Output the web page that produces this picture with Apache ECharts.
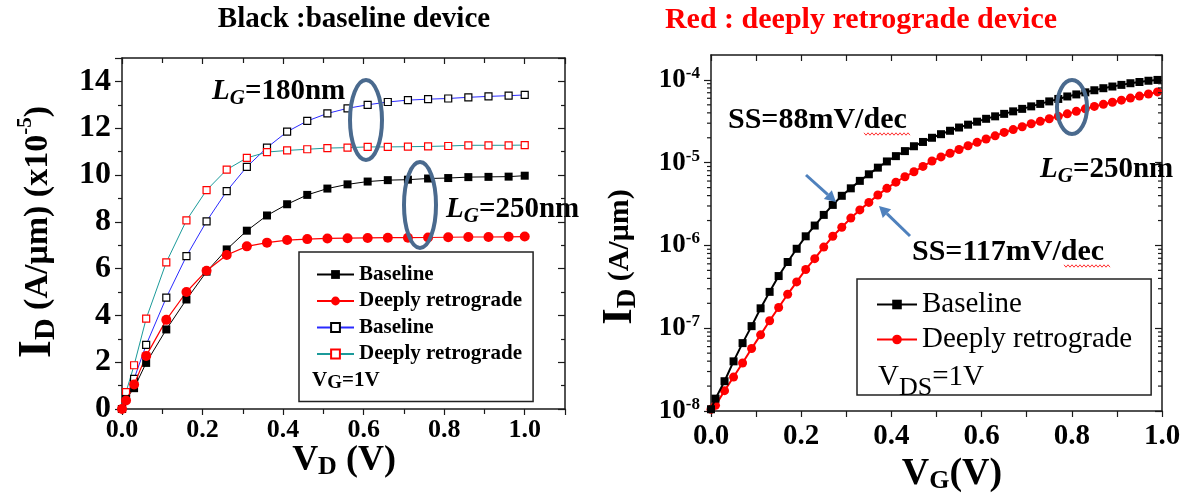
<!DOCTYPE html>
<html>
<head>
<meta charset="utf-8">
<script src="https://cdn.jsdelivr.net/npm/echarts@6/dist/echarts.min.js"></script>
<style>
  html, body { margin: 0; padding: 0; background: #fff; }
  #chart { width: 1191px; height: 497px; }
</style>
</head>
<body>
<div id="chart"></div>
<script>
// ---- Output characteristics (I_D vs V_D, V_G = 1 V), I_D in units of 1e-5 A/um ----
const vdVolts = [0, 0.01, 0.03, 0.06, 0.11, 0.16, 0.21, 0.26, 0.31, 0.36, 0.41, 0.46,
                 0.51, 0.56, 0.61, 0.66, 0.71, 0.76, 0.81, 0.86, 0.91, 0.96, 1.0];
const idBaseline250 = [0, 0.43, 0.89, 1.97, 3.40, 4.68, 5.87, 6.82, 7.62, 8.27, 8.75, 9.15,
                       9.42, 9.60, 9.72, 9.78, 9.80, 9.85, 9.87, 9.91, 9.92, 9.93, 9.97];
const idRetro250 = [0, 0.36, 1.05, 2.27, 3.81, 5.00, 5.91, 6.58, 6.95, 7.11, 7.22, 7.26,
                    7.29, 7.30, 7.31, 7.32, 7.32, 7.33, 7.34, 7.35, 7.35, 7.36, 7.37];
const idBaseline180 = [0, 0.55, 1.29, 2.74, 4.76, 6.53, 8.02, 9.31, 10.35, 11.17, 11.85, 12.31,
                       12.63, 12.85, 13.00, 13.12, 13.20, 13.24, 13.27, 13.32, 13.36, 13.39, 13.42];
const idRetro180 = [0, 0.72, 1.87, 3.86, 6.27, 8.06, 9.35, 10.23, 10.73, 10.98, 11.05, 11.10,
                    11.15, 11.17, 11.20, 11.20, 11.21, 11.22, 11.24, 11.27, 11.27, 11.27, 11.28];

// ---- Transfer characteristics (I_D vs V_G, V_DS = 1 V), I_D in A/um ----
const vgVolts = [0, 0.01, 0.03, 0.05, 0.07, 0.09, 0.11, 0.13, 0.15, 0.17, 0.19, 0.21, 0.23, 0.25,
                 0.27, 0.29, 0.31, 0.33, 0.35, 0.37, 0.39, 0.41, 0.43, 0.45, 0.47, 0.49, 0.51,
                 0.53, 0.55, 0.57, 0.59, 0.61, 0.63, 0.65, 0.67, 0.69, 0.71, 0.73, 0.75, 0.77,
                 0.79, 0.81, 0.83, 0.85, 0.87, 0.89, 0.91, 0.93, 0.95, 0.97, 0.99];
const idBaselineVg = [1.05e-8, 1.41e-8, 2.29e-8, 3.98e-8, 6.61e-8, 1.06e-7, 1.74e-7, 2.75e-7,
                      4.27e-7, 6.31e-7, 9.12e-7, 1.29e-6, 1.74e-6, 2.34e-6, 3.09e-6, 3.98e-6,
                      4.90e-6, 6.03e-6, 7.24e-6, 8.71e-6, 1.035e-5, 1.20e-5, 1.38e-5, 1.58e-5,
                      1.78e-5, 2.00e-5, 2.21e-5, 2.43e-5, 2.66e-5, 2.88e-5, 3.13e-5, 3.39e-5,
                      3.63e-5, 3.89e-5, 4.17e-5, 4.47e-5, 4.79e-5, 5.13e-5, 5.50e-5, 5.89e-5,
                      6.31e-5, 6.68e-5, 7.08e-5, 7.50e-5, 7.94e-5, 8.32e-5, 8.71e-5, 9.12e-5,
                      9.44e-5, 9.77e-5, 1.00e-4];
const idRetroVg = [1.05e-8, 1.17e-8, 1.76e-8, 2.57e-8, 3.80e-8, 5.69e-8, 8.32e-8, 1.23e-7,
                   1.78e-7, 2.57e-7, 3.63e-7, 5.13e-7, 6.92e-7, 9.55e-7, 1.29e-6, 1.66e-6,
                   2.14e-6, 2.69e-6, 3.31e-6, 4.07e-6, 4.90e-6, 5.82e-6, 6.76e-6, 7.76e-6,
                   9.02e-6, 1.047e-5, 1.175e-5, 1.30e-5, 1.445e-5, 1.60e-5, 1.76e-5, 1.93e-5,
                   2.11e-5, 2.32e-5, 2.51e-5, 2.72e-5, 2.95e-5, 3.16e-5, 3.39e-5, 3.63e-5,
                   3.89e-5, 4.17e-5, 4.47e-5, 4.79e-5, 5.07e-5, 5.37e-5, 5.69e-5, 6.03e-5,
                   6.38e-5, 6.76e-5, 7.16e-5];

// Axis ranges
const vdRange = [0, 1.1];
const idLinRange = [0, 15];
const vgRange = [0, 1.0];
const idLogRange = [1e-8, 2e-4];

const SERIF = '"Liberation Serif","Times New Roman",Times,serif';
const AXIS_COLOR = '#1a1a1a';

const pairs = (xs, ys) => xs.map((x, i) => [x, ys[i]]);
const legendLabel = name => name.split(' | ')[0];

// log-axis minor ticks at 2..9 x 10^n
const logMinorTicks = [];
for (let e = -8; e <= -4; e++) {
  for (let m = 2; m <= 9; m++) {
    const v = m * Math.pow(10, e);
    if (v < idLogRange[1]) logMinorTicks.push([0, v]);
  }
}

function axisLine() {
  return { show: true, onZero: false, lineStyle: { color: AXIS_COLOR, width: 1.5 } };
}

function zigzag(x0, x1, y, amp, step) {
  const pts = [];
  let k = 0;
  for (let x = x0; x <= x1; x += step / 2, k++) pts.push([x, y + (k % 2 ? amp : -amp)]);
  return pts;
}

function arrow(tail, tip, color) {
  const dx = tip[0] - tail[0], dy = tip[1] - tail[1];
  const len = Math.hypot(dx, dy), ux = dx / len, uy = dy / len;
  const hl = 11, hw = 6;
  const base = [tip[0] - ux * hl, tip[1] - uy * hl];
  return [
    { type: 'line', z: 10, shape: { x1: tail[0], y1: tail[1], x2: base[0], y2: base[1] },
      style: { stroke: color, lineWidth: 3 } },
    { type: 'polygon', z: 10, shape: { points: [tip, [base[0] - uy * hw, base[1] + ux * hw], [base[0] + uy * hw, base[1] - ux * hw]] },
      style: { fill: color } }
  ];
}

const lgRich = {
  L: { fontFamily: SERIF, fontStyle: 'italic', fontWeight: 'bold', fontSize: 29, lineHeight: 34 },
  G: { fontFamily: SERIF, fontStyle: 'italic', fontWeight: 'bold', fontSize: 21, lineHeight: 20, verticalAlign: 'bottom' },
  t: { fontFamily: SERIF, fontWeight: 'bold', fontSize: 29, lineHeight: 34 }
};

const chart = echarts.init(document.getElementById('chart'), null, { renderer: 'canvas' });

const option = {
  animation: false,
  backgroundColor: '#fff',
  grid: [
    { left: 122, top: 58, width: 443, height: 351 },
    { left: 711, top: 55, width: 451, height: 356 }
  ],
  xAxis: [
    {
      gridIndex: 0, type: 'value', position: 'bottom', min: vdRange[0], max: vdRange[1], interval: 0.2,
      axisLine: axisLine(),
      axisTick: { show: true, length: 6, lineStyle: { color: AXIS_COLOR, width: 1.2 } },
      minorTick: { show: true, splitNumber: 2, length: 5, lineStyle: { color: AXIS_COLOR, width: 1.2 } },
      splitLine: { show: false },
      axisLabel: {
        showMaxLabel: false, margin: 8, color: '#000', fontFamily: SERIF, fontWeight: 'bold', fontSize: 26,
        formatter: v => v.toFixed(1)
      }
    },
    {
      gridIndex: 0, type: 'value', position: 'top', min: vdRange[0], max: vdRange[1], interval: 0.2,
      axisLine: axisLine(),
      axisTick: { show: true, inside: true, length: 6, lineStyle: { color: AXIS_COLOR, width: 1.2 } },
      minorTick: { show: true, splitNumber: 2, length: 5, lineStyle: { color: AXIS_COLOR, width: 1.2 } },
      splitLine: { show: false }, axisLabel: { show: false }
    },
    {
      gridIndex: 1, type: 'value', position: 'bottom', min: vgRange[0], max: vgRange[1], interval: 0.2,
      axisLine: axisLine(),
      axisTick: { show: true, length: 6, lineStyle: { color: AXIS_COLOR, width: 1.2 } },
      minorTick: { show: true, splitNumber: 2, length: 6, lineStyle: { color: AXIS_COLOR, width: 1.2 } },
      splitLine: { show: false },
      axisLabel: {
        margin: 11, color: '#000', fontFamily: SERIF, fontWeight: 'bold', fontSize: 29,
        formatter: v => v.toFixed(1)
      }
    },
    {
      gridIndex: 1, type: 'value', position: 'top', min: vgRange[0], max: vgRange[1], interval: 0.2,
      axisLine: axisLine(),
      axisTick: { show: true, inside: true, length: 6, lineStyle: { color: AXIS_COLOR, width: 1.2 } },
      minorTick: { show: true, splitNumber: 2, length: 6, lineStyle: { color: AXIS_COLOR, width: 1.2 } },
      splitLine: { show: false }, axisLabel: { show: false }
    }
  ],
  yAxis: [
    {
      gridIndex: 0, type: 'value', position: 'left', min: idLinRange[0], max: idLinRange[1], interval: 2,
      axisLine: axisLine(),
      axisTick: { show: true, length: 7, lineStyle: { color: AXIS_COLOR, width: 1.2 } },
      minorTick: { show: true, splitNumber: 2, length: 4, lineStyle: { color: AXIS_COLOR, width: 1.2 } },
      splitLine: { show: false },
      axisLabel: { showMaxLabel: false, margin: 11, color: '#000', fontFamily: SERIF, fontWeight: 'bold', fontSize: 32 }
    },
    {
      gridIndex: 0, type: 'value', position: 'right', min: idLinRange[0], max: idLinRange[1], interval: 2,
      axisLine: axisLine(),
      axisTick: { show: true, inside: true, length: 7, lineStyle: { color: AXIS_COLOR, width: 1.2 } },
      minorTick: { show: true, splitNumber: 2, length: 4, lineStyle: { color: AXIS_COLOR, width: 1.2 } },
      splitLine: { show: false }, axisLabel: { show: false }
    },
    {
      gridIndex: 1, type: 'log', logBase: 10, position: 'left', min: idLogRange[0], max: idLogRange[1],
      axisLine: axisLine(),
      axisTick: { show: true, length: 7, lineStyle: { color: AXIS_COLOR, width: 1.2 } },
      splitLine: { show: false },
      axisLabel: {
        showMaxLabel: false, margin: 11, color: '#000',
        formatter: v => '{b|10}{s|' + Math.round(Math.log10(v)) + '}',
        rich: {
          b: { fontFamily: SERIF, fontWeight: 'bold', fontSize: 27, lineHeight: 30, color: '#000' },
          s: { fontFamily: SERIF, fontWeight: 'bold', fontSize: 17, lineHeight: 17, verticalAlign: 'top', color: '#000' }
        }
      }
    },
    {
      gridIndex: 1, type: 'log', logBase: 10, position: 'right', min: idLogRange[0], max: idLogRange[1],
      axisLine: axisLine(),
      axisTick: { show: true, inside: true, length: 7, lineStyle: { color: AXIS_COLOR, width: 1.2 } },
      splitLine: { show: false }, axisLabel: { show: false }
    }
  ],
  legend: [
    {
      data: ['Baseline | 250 nm', 'Deeply retrograde | 250 nm', 'Baseline | 180 nm', 'Deeply retrograde | 180 nm'],
      orient: 'vertical', left: 299, top: 252,
      itemWidth: 37, itemHeight: 11, itemGap: 5.5,
      padding: [12, 11, 37, 17],
      borderColor: '#222', borderWidth: 1.5, borderRadius: 0,
      selectedMode: false, formatter: legendLabel,
      textStyle: { fontFamily: SERIF, fontWeight: 'bold', fontSize: 21, color: '#000' }
    },
    {
      data: ['Baseline | Vg sweep', 'Deeply retrograde | Vg sweep'],
      orient: 'vertical', left: 857, top: 279,
      itemWidth: 40, itemHeight: 12, itemGap: 6,
      padding: [11, 19, 41, 19],
      borderColor: '#222', borderWidth: 1.5, borderRadius: 0,
      selectedMode: false, formatter: legendLabel,
      textStyle: { fontFamily: SERIF, fontSize: 29, color: '#000' }
    }
  ],
  series: [
    {
      name: 'Baseline | 250 nm', type: 'line', xAxisIndex: 0, yAxisIndex: 0,
      data: pairs(vdVolts, idBaseline250),
      symbol: 'rect', symbolSize: 8, showSymbol: true,
      itemStyle: { color: '#000' }, lineStyle: { color: '#000', width: 1 }, z: 4
    },
    {
      name: 'Deeply retrograde | 250 nm', type: 'line', xAxisIndex: 0, yAxisIndex: 0,
      data: pairs(vdVolts, idRetro250),
      symbol: 'circle', symbolSize: 10, showSymbol: true,
      itemStyle: { color: '#ff0000' }, lineStyle: { color: '#ff0000', width: 1.2 }, z: 4
    },
    {
      name: 'Baseline | 180 nm', type: 'line', xAxisIndex: 0, yAxisIndex: 0,
      data: pairs(vdVolts, idBaseline180),
      symbol: 'rect', symbolSize: 7, showSymbol: true,
      itemStyle: { color: '#fff', borderColor: '#000', borderWidth: 1.2 },
      lineStyle: { color: '#2a2aff', width: 1 }, z: 3
    },
    {
      name: 'Deeply retrograde | 180 nm', type: 'line', xAxisIndex: 0, yAxisIndex: 0,
      data: pairs(vdVolts, idRetro180),
      symbol: 'rect', symbolSize: 7, showSymbol: true,
      itemStyle: { color: '#fff', borderColor: '#ff0000', borderWidth: 1.2 },
      lineStyle: { color: '#1b9a9a', width: 1 }, z: 3
    },
    {
      name: 'Baseline | Vg sweep', type: 'line', xAxisIndex: 2, yAxisIndex: 2,
      data: pairs(vgVolts, idBaselineVg),
      symbol: 'rect', symbolSize: 8, showSymbol: true,
      itemStyle: { color: '#000' }, lineStyle: { color: '#000', width: 2 }, z: 4
    },
    {
      name: 'Deeply retrograde | Vg sweep', type: 'line', xAxisIndex: 2, yAxisIndex: 2,
      data: pairs(vgVolts, idRetroVg),
      symbol: 'circle', symbolSize: 9, showSymbol: true,
      itemStyle: { color: '#ff0000' }, lineStyle: { color: '#ff0000', width: 2 }, z: 3
    },
    {
      // minor ticks of the logarithmic current axis (left outward, right inward)
      type: 'custom', xAxisIndex: 2, yAxisIndex: 2, silent: true, clip: false, z: 5,
      data: logMinorTicks,
      renderItem: (params, api) => {
        const v = api.value(1);
        const pl = api.coord([vgRange[0], v]);
        const pr = api.coord([vgRange[1], v]);
        const st = { stroke: AXIS_COLOR, lineWidth: 1.2 };
        return {
          type: 'group', children: [
            { type: 'line', shape: { x1: pl[0] - 4, y1: pl[1], x2: pl[0], y2: pl[1] }, style: st },
            { type: 'line', shape: { x1: pr[0] - 4, y1: pr[1], x2: pr[0], y2: pr[1] }, style: st }
          ]
        };
      }
    }
  ],
  graphic: [
    // panel titles
    { type: 'text', x: 354, y: 20, style: { text: 'Black :baseline device', fontFamily: SERIF, fontWeight: 'bold', fontSize: 29, fill: '#000', align: 'center', verticalAlign: 'middle' } },
    { type: 'text', x: 861, y: 20, style: { text: 'Red : deeply retrograde device', fontFamily: SERIF, fontWeight: 'bold', fontSize: 30, fill: '#ff0000', align: 'center', verticalAlign: 'middle' } },
    // axis titles
    {
      type: 'text', x: 38, y: 232, rotation: Math.PI / 2,
      style: {
        text: '{i|I}{d|D}{r| (A/μm) (x10}{s|-5}{r|)}', align: 'center', verticalAlign: 'middle', fill: '#000',
        rich: {
          i: { fontFamily: SERIF, fontWeight: 'bold', fontSize: 46, lineHeight: 46 },
          d: { fontFamily: SERIF, fontWeight: 'bold', fontSize: 30, lineHeight: 30, verticalAlign: 'bottom' },
          r: { fontFamily: SERIF, fontWeight: 'bold', fontSize: 34, lineHeight: 46 },
          s: { fontFamily: SERIF, fontWeight: 'bold', fontSize: 21, lineHeight: 21, verticalAlign: 'top' }
        }
      }
    },
    {
      type: 'text', x: 344, y: 461,
      style: {
        text: '{v|V}{d|D}{v| (V)}', align: 'center', verticalAlign: 'middle', fill: '#000',
        rich: {
          v: { fontFamily: SERIF, fontWeight: 'bold', fontSize: 36, lineHeight: 38 },
          d: { fontFamily: SERIF, fontWeight: 'bold', fontSize: 26, lineHeight: 26, verticalAlign: 'bottom' }
        }
      }
    },
    {
      type: 'text', x: 620, y: 257, rotation: Math.PI / 2,
      style: {
        text: '{i|I}{d|D}{r| (A/μm)}', align: 'center', verticalAlign: 'middle', fill: '#000',
        rich: {
          i: { fontFamily: SERIF, fontWeight: 'bold', fontSize: 42, lineHeight: 44 },
          d: { fontFamily: SERIF, fontWeight: 'bold', fontSize: 27, lineHeight: 27, verticalAlign: 'bottom' },
          r: { fontFamily: SERIF, fontWeight: 'bold', fontSize: 30, lineHeight: 44 }
        }
      }
    },
    {
      type: 'text', x: 952, y: 474,
      style: {
        text: '{v|V}{g|G}{v|(V)}', align: 'center', verticalAlign: 'middle', fill: '#000',
        rich: {
          v: { fontFamily: SERIF, fontWeight: 'bold', fontSize: 38, lineHeight: 40 },
          g: { fontFamily: SERIF, fontWeight: 'bold', fontSize: 26, lineHeight: 26, verticalAlign: 'bottom' }
        }
      }
    },
    // gate-length annotations
    { type: 'text', x: 212, y: 92, style: { text: '{L|L}{G|G}{t|=180nm}', rich: lgRich, fill: '#000', align: 'left', verticalAlign: 'middle' } },
    { type: 'text', x: 446, y: 210, style: { text: '{L|L}{G|G}{t|=250nm}', rich: lgRich, fill: '#000', align: 'left', verticalAlign: 'middle' } },
    { type: 'text', x: 1040, y: 170, z: 10, style: { text: '{L|L}{G|G}{t|=250nm}', rich: lgRich, fill: '#000', align: 'left', verticalAlign: 'middle' } },
    // ellipses grouping the curves
    { type: 'ellipse', shape: { cx: 366, cy: 120, rx: 16, ry: 40 }, style: { fill: null, stroke: '#4a6a8e', lineWidth: 4 }, z: 10 },
    { type: 'ellipse', shape: { cx: 420, cy: 205, rx: 16, ry: 43 }, style: { fill: null, stroke: '#4a6a8e', lineWidth: 4 }, z: 10 },
    { type: 'ellipse', shape: { cx: 1072, cy: 107, rx: 15, ry: 27 }, style: { fill: null, stroke: '#4a6a8e', lineWidth: 4 }, z: 10 },
    // subthreshold swing annotations
    { type: 'text', x: 728, y: 120, style: { text: 'SS=88mV/dec', fontFamily: SERIF, fontWeight: 'bold', fontSize: 30, fill: '#000', align: 'left', verticalAlign: 'middle' } },
    { type: 'text', x: 912, y: 252, style: { text: 'SS=117mV/dec', fontFamily: SERIF, fontWeight: 'bold', fontSize: 30, fill: '#000', align: 'left', verticalAlign: 'middle' } },
    { type: 'polyline', shape: { points: zigzag(864, 910, 134, 1.2, 4) }, style: { stroke: '#ff3030', lineWidth: 1, fill: null } },
    { type: 'polyline', shape: { points: zigzag(1064, 1110, 266, 1.2, 4) }, style: { stroke: '#ff3030', lineWidth: 1, fill: null } },
    ...arrow([806, 175], [836, 202], '#4f81bd'),
    ...arrow([910, 236], [879, 206], '#4f81bd'),
    // bias conditions inside the legends
    {
      type: 'text', x: 312, y: 381, z: 20,
      style: {
        text: '{v|V}{g|G}{v|=1V}', fill: '#000', align: 'left', verticalAlign: 'middle',
        rich: {
          v: { fontFamily: SERIF, fontWeight: 'bold', fontSize: 21, lineHeight: 24 },
          g: { fontFamily: SERIF, fontWeight: 'bold', fontSize: 19, lineHeight: 18, verticalAlign: 'bottom' }
        }
      }
    },
    {
      type: 'text', x: 878, y: 377, z: 20,
      style: {
        text: '{v|V}{g|DS}{v|=1V}', fill: '#000', align: 'left', verticalAlign: 'middle',
        rich: {
          v: { fontFamily: SERIF, fontSize: 29, lineHeight: 32 },
          g: { fontFamily: SERIF, fontSize: 26, lineHeight: 26, verticalAlign: 'bottom', padding: [0, 0, -8, 0] }
        }
      }
    }
  ]
};

chart.setOption(option);
</script>
</body>
</html>
